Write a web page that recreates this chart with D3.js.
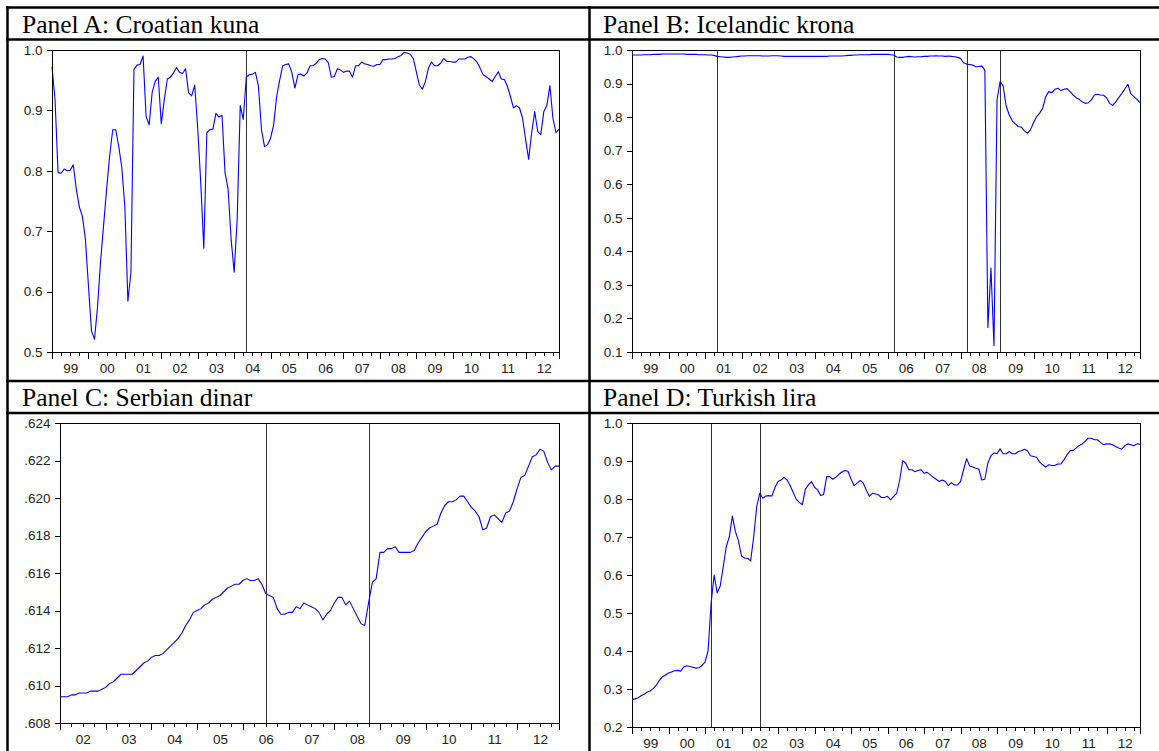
<!DOCTYPE html>
<html>
<head>
<meta charset="utf-8">
<script src="https://cdn.jsdelivr.net/npm/d3@7"></script>
<style>
  html, body { margin: 0; padding: 0; background: #fff; }
  svg { display: block; }
  .ttl { font-family: "Liberation Serif", "Times New Roman", serif; font-size: 25.5px; fill: #000; }
  .axis text { font-family: "Liberation Sans", Arial, sans-serif; font-size: 13.5px; fill: #222; }
  .axis line { stroke: #000; }
</style>
</head>
<body>
<svg id="chart" width="1159" height="751"></svg>
<script>
// ---- Monthly series (first observation given as [year, month]) ----
const kunaStart = [1999, 1];
const kunaValues = [
  0.972,0.918,0.797,0.796,0.803,0.800,0.801,0.810,0.770,0.740,0.725,0.687,
  0.610,0.535,0.521,0.575,0.650,0.710,0.770,0.825,0.868,0.868,0.840,0.805,
  0.740,0.584,0.632,0.968,0.975,0.976,0.990,0.890,0.876,0.930,0.948,0.955,
  0.878,0.918,0.952,0.955,0.962,0.971,0.963,0.961,0.969,0.929,0.924,0.942,
  0.870,0.780,0.672,0.863,0.868,0.869,0.895,0.889,0.892,0.797,0.770,0.687,
  0.632,0.720,0.908,0.885,0.955,0.959,0.960,0.963,0.940,0.868,0.840,0.843,
  0.854,0.876,0.923,0.950,0.974,0.976,0.977,0.963,0.937,0.959,0.960,0.957,
  0.962,0.974,0.974,0.978,0.984,0.986,0.985,0.979,0.955,0.956,0.969,0.967,
  0.963,0.965,0.965,0.955,0.974,0.974,0.980,0.977,0.976,0.974,0.973,0.976,
  0.976,0.984,0.984,0.985,0.985,0.986,0.989,0.991,0.996,0.995,0.993,0.986,
  0.964,0.942,0.935,0.948,0.970,0.980,0.974,0.974,0.978,0.986,0.981,0.981,
  0.980,0.980,0.985,0.985,0.985,0.988,0.989,0.985,0.980,0.970,0.959,0.956,
  0.952,0.948,0.956,0.964,0.952,0.951,0.940,0.923,0.904,0.908,0.904,0.887,
  0.852,0.819,0.863,0.898,0.865,0.860,0.898,0.908,0.941,0.887,0.863,0.869
];
const kunaBreaks = [[2004, 5]];

const kronaStart = [1999, 1];
const kronaValues = [
  0.985,0.985,0.985,0.985,0.986,0.986,0.986,0.987,0.987,0.987,0.988,0.988,
  0.988,0.988,0.988,0.988,0.988,0.988,0.987,0.987,0.987,0.987,0.986,0.986,
  0.986,0.985,0.985,0.984,0.981,0.980,0.979,0.978,0.978,0.979,0.980,0.981,
  0.982,0.982,0.983,0.983,0.983,0.983,0.983,0.982,0.982,0.982,0.983,0.983,
  0.983,0.982,0.981,0.981,0.981,0.981,0.981,0.981,0.981,0.981,0.981,0.981,
  0.981,0.981,0.981,0.981,0.981,0.982,0.982,0.982,0.982,0.982,0.983,0.984,
  0.984,0.985,0.985,0.986,0.986,0.986,0.986,0.987,0.987,0.987,0.987,0.987,
  0.987,0.986,0.985,0.979,0.978,0.978,0.980,0.981,0.980,0.979,0.980,0.980,
  0.981,0.981,0.982,0.982,0.983,0.982,0.982,0.981,0.982,0.981,0.980,0.978,
  0.975,0.962,0.958,0.957,0.955,0.950,0.951,0.952,0.940,0.173,0.350,0.119,
  0.851,0.906,0.893,0.833,0.807,0.789,0.780,0.772,0.770,0.759,0.752,0.762,
  0.784,0.801,0.812,0.826,0.861,0.876,0.873,0.883,0.886,0.879,0.883,0.885,
  0.876,0.866,0.858,0.853,0.846,0.841,0.843,0.851,0.866,0.868,0.866,0.865,
  0.858,0.841,0.835,0.845,0.858,0.870,0.884,0.898,0.869,0.861,0.853,0.843
];
const kronaBreaks = [[2001, 5], [2006, 3], [2008, 3], [2009, 2]];

const dinarStart = [2002, 1];
const dinarValues = [
  0.6094,0.6094,0.6094,0.6095,0.6095,0.6096,0.6096,0.6096,0.6097,0.6097,0.6097,0.6098,
  0.6099,0.6101,0.6102,0.6104,0.6106,0.6106,0.6106,0.6106,0.6108,0.6110,0.6112,0.6113,
  0.6115,0.6116,0.6116,0.6117,0.6119,0.6121,0.6123,0.6125,0.6128,0.6132,0.6135,0.6139,
  0.6140,0.6141,0.6143,0.6144,0.6146,0.6147,0.6148,0.6150,0.6152,0.6153,0.6154,0.6154,
  0.6156,0.6157,0.6156,0.6156,0.6157,0.6154,0.6149,0.6148,0.6147,0.6141,0.6138,0.6138,
  0.6139,0.6139,0.6142,0.6141,0.6144,0.6143,0.6142,0.6141,0.6139,0.6135,0.6138,0.6140,
  0.6144,0.6147,0.6147,0.6143,0.6145,0.6141,0.6137,0.6133,0.6132,0.6144,0.6155,0.6157,
  0.6171,0.6171,0.6173,0.6173,0.6174,0.6171,0.6171,0.6171,0.6171,0.6172,0.6176,0.6179,
  0.6182,0.6184,0.6185,0.6186,0.6192,0.6196,0.6198,0.6198,0.6199,0.6201,0.6201,0.6198,
  0.6195,0.6193,0.6190,0.6183,0.6184,0.6190,0.6191,0.6189,0.6187,0.6192,0.6193,0.6198,
  0.6205,0.6211,0.6212,0.6217,0.6222,0.6223,0.6226,0.6225,0.6219,0.6215,0.6217,0.6217
];
const dinarBreaks = [[2006, 7], [2008, 10]];

const liraStart = [1999, 1];
const liraValues = [
  0.272,0.274,0.277,0.282,0.286,0.292,0.295,0.301,0.310,0.323,0.332,0.337,
  0.342,0.345,0.348,0.349,0.347,0.358,0.361,0.359,0.357,0.355,0.356,0.362,
  0.371,0.400,0.525,0.600,0.553,0.571,0.622,0.675,0.701,0.755,0.714,0.690,
  0.650,0.644,0.644,0.637,0.700,0.780,0.815,0.802,0.808,0.809,0.808,0.830,
  0.846,0.850,0.857,0.850,0.835,0.817,0.799,0.791,0.785,0.826,0.837,0.846,
  0.831,0.824,0.809,0.812,0.859,0.859,0.852,0.857,0.865,0.871,0.875,0.873,
  0.853,0.835,0.842,0.849,0.842,0.824,0.807,0.815,0.813,0.811,0.804,0.804,
  0.807,0.798,0.807,0.815,0.850,0.901,0.894,0.877,0.877,0.872,0.875,0.877,
  0.868,0.870,0.864,0.857,0.852,0.846,0.850,0.846,0.835,0.843,0.837,0.837,
  0.846,0.877,0.906,0.887,0.884,0.881,0.879,0.850,0.852,0.895,0.914,0.921,
  0.919,0.932,0.919,0.919,0.925,0.919,0.919,0.925,0.927,0.931,0.927,0.914,
  0.912,0.910,0.897,0.890,0.884,0.890,0.888,0.888,0.892,0.892,0.903,0.916,
  0.927,0.928,0.934,0.941,0.945,0.952,0.960,0.960,0.956,0.956,0.949,0.943,
  0.945,0.945,0.943,0.938,0.934,0.931,0.940,0.945,0.943,0.940,0.945,0.944
];
const liraBreaks = [[2001, 3], [2002, 7]];

// ---- Axis labels ----
const years99to12 = ["99","00","01","02","03","04","05","06","07","08","09","10","11","12"];
const years02to12 = ["02","03","04","05","06","07","08","09","10","11","12"];
const kunaTicks  = [0.5, 0.6, 0.7, 0.8, 0.9, 1.0];
const kronaTicks = [0.1, 0.2, 0.3, 0.4, 0.5, 0.6, 0.7, 0.8, 0.9, 1.0];
const dinarTicks = [0.608, 0.610, 0.612, 0.614, 0.616, 0.618, 0.620, 0.622, 0.624];
const liraTicks  = [0.2, 0.3, 0.4, 0.5, 0.6, 0.7, 0.8, 0.9, 1.0];
const titles = ["Panel A: Croatian kuna", "Panel B: Icelandic krona", "Panel C: Serbian dinar", "Panel D: Turkish lira"];

// ---- Layout ----
const frames = [
  { left: 52,  right: 559,  top: 50,  bottom: 352 },
  { left: 632, right: 1140, top: 50,  bottom: 352 },
  { left: 60,  right: 559,  top: 423, bottom: 723 },
  { left: 632, right: 1140, top: 423, bottom: 727 }
];
const titlePos = [[22, 33], [603, 33], [22, 406], [603, 406]];

const oneDec = d3.format(".1f");
const dotThree = d => d3.format(".3f")(d).replace(/^0/, "");

const panels = [
  { values: kunaValues,  start: kunaStart,  breaks: kunaBreaks,  ticks: kunaTicks,  fmt: oneDec,   years: years99to12 },
  { values: kronaValues, start: kronaStart, breaks: kronaBreaks, ticks: kronaTicks, fmt: oneDec,   years: years99to12 },
  { values: dinarValues, start: dinarStart, breaks: dinarBreaks, ticks: dinarTicks, fmt: dotThree, years: years02to12 },
  { values: liraValues,  start: liraStart,  breaks: liraBreaks,  ticks: liraTicks,  fmt: oneDec,   years: years99to12 }
];

const svg = d3.select("#chart");
svg.append("rect").attr("width", 1159).attr("height", 751).attr("fill", "#fff");

const monthIndex = (ym, start) => (ym[0] - start[0]) * 12 + (ym[1] - start[1]);

panels.forEach((p, k) => {
  const f = frames[k];
  const n = p.values.length;
  const x = d3.scaleLinear().domain([0, n - 1]).range([f.left, f.right]);
  const y = d3.scaleLinear().domain(d3.extent(p.ticks)).range([f.bottom, f.top]);
  const g = svg.append("g");

  // break dates
  g.selectAll("line.brk").data(p.breaks).join("line")
    .attr("class", "brk")
    .attr("x1", d => Math.round(x(monthIndex(d, p.start))) + 0.5)
    .attr("x2", d => Math.round(x(monthIndex(d, p.start))) + 0.5)
    .attr("y1", f.top).attr("y2", f.bottom)
    .attr("stroke", "#333").attr("stroke-width", 1)
    .attr("shape-rendering", "crispEdges");

  // series
  g.append("path")
    .datum(p.values)
    .attr("fill", "none")
    .attr("stroke", "#0000ff")
    .attr("stroke-width", 1.1)
    .attr("stroke-linejoin", "round")
    .attr("d", d3.line().x((d, i) => x(i)).y(d => y(d)));

  // frame
  g.append("rect")
    .attr("x", f.left + 0.5).attr("y", f.top + 0.5)
    .attr("width", f.right - f.left).attr("height", f.bottom - f.top)
    .attr("fill", "none").attr("stroke", "#000").attr("stroke-width", 1)
    .attr("shape-rendering", "crispEdges");

  // y axis
  g.append("g").attr("class", "axis")
    .attr("transform", `translate(${f.left + 0.5},0)`)
    .call(d3.axisLeft(y).tickValues(p.ticks).tickSize(6).tickPadding(4).tickFormat(p.fmt))
    .call(s => s.select(".domain").remove())
    .call(s => s.selectAll("line").attr("shape-rendering", "crispEdges"));

  // x axis: quarterly minor ticks, yearly major ticks, labels centred on each year
  const quarters = d3.range(0, n, 3);
  const majors = d3.range(0, n, 12).concat([n - 1]);
  const labelPos = p.years.map((_, i) => i * 12 + 6);
  const labelOf = new Map(labelPos.map((v, i) => [v, p.years[i]]));
  const bottom = f.bottom + 0.5;

  g.append("g").attr("class", "axis")
    .attr("transform", `translate(0,${bottom})`)
    .call(d3.axisBottom(x).tickValues(quarters).tickSize(3.5).tickFormat(""))
    .call(s => s.select(".domain").remove())
    .call(s => s.selectAll("line").attr("shape-rendering", "crispEdges"));
  g.append("g").attr("class", "axis")
    .attr("transform", `translate(0,${bottom})`)
    .call(d3.axisBottom(x).tickValues(majors).tickSize(6).tickFormat(""))
    .call(s => s.select(".domain").remove())
    .call(s => s.selectAll("line").attr("shape-rendering", "crispEdges"));
  g.append("g").attr("class", "axis")
    .attr("transform", `translate(0,${bottom})`)
    .call(d3.axisBottom(x).tickValues(labelPos).tickSize(0).tickPadding(11).tickFormat(d => labelOf.get(d)))
    .call(s => s.select(".domain").remove());

  // panel title
  svg.append("text").attr("class", "ttl")
    .attr("x", titlePos[k][0]).attr("y", titlePos[k][1])
    .text(titles[k]);
});

// table rules
const rules = [
  [6, 7.5, 1159, 7.5], [6, 39.5, 1159, 39.5],
  [6, 381, 1159, 381], [6, 413, 1159, 413],
  [7.5, 6, 7.5, 751], [589.5, 6, 589.5, 751]
];
svg.append("g").selectAll("line").data(rules).join("line")
  .attr("x1", d => d[0]).attr("y1", d => d[1])
  .attr("x2", d => d[2]).attr("y2", d => d[3])
  .attr("stroke", "#000").attr("stroke-width", 2.5);
</script>
</body>
</html>
